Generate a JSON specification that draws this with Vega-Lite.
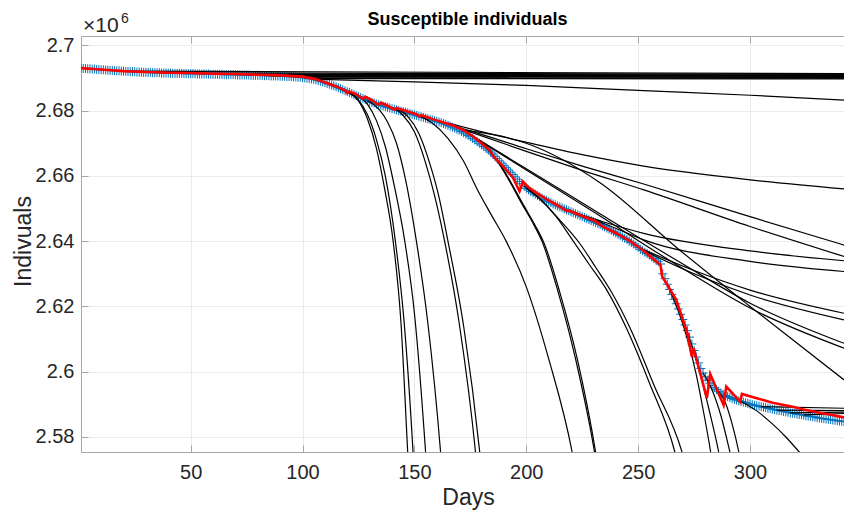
{
  "$schema": "https://vega.github.io/schema/vega-lite/v6.json",
  "width": 763,
  "height": 416,
  "autosize": {"type": "none"},
  "padding": {"left": 81, "top": 36, "right": 0, "bottom": 63},
  "background": "white",
  "title": {"text": "Susceptible individuals", "font": "Liberation Sans", "fontSize": 18, "fontWeight": "bold", "color": "#000000", "anchor": "middle", "frame": "group", "dx": 5, "baseline": "alphabetic", "offset": -31},
  "config": {
    "view": {"stroke": null},
    "axis": {
      "labelFont": "Liberation Sans", "titleFont": "Liberation Sans",
      "labelFontSize": 20, "titleFontSize": 23, "titleFontWeight": "normal",
      "labelColor": "#262626", "titleColor": "#262626",
      "domainColor": "#a6a6a6", "domainWidth": 1,
      "tickColor": "#a6a6a6", "tickSize": -7, "tickWidth": 1,
      "gridColor": "#ebebeb", "gridWidth": 1
    }
  },
  "datasets": {
    "blue": [
      {"d":1,"v":2.6930},{"d":2,"v":2.6929},{"d":3,"v":2.6929},{"d":4,"v":2.6928},{"d":5,"v":2.6928},{"d":6,"v":2.6927},{"d":7,"v":2.6927},{"d":8,"v":2.6926},{"d":9,"v":2.6926},{"d":10,"v":2.6925},
      {"d":11,"v":2.6925},{"d":12,"v":2.6924},{"d":13,"v":2.6924},{"d":14,"v":2.6923},{"d":15,"v":2.6923},{"d":16,"v":2.6922},{"d":17,"v":2.6922},{"d":18,"v":2.6922},{"d":19,"v":2.6921},{"d":20,"v":2.6921},
      {"d":21,"v":2.6920},{"d":22,"v":2.6920},{"d":23,"v":2.6919},{"d":24,"v":2.6919},{"d":25,"v":2.6919},{"d":26,"v":2.6918},{"d":27,"v":2.6918},{"d":28,"v":2.6918},{"d":29,"v":2.6917},{"d":30,"v":2.6917},
      {"d":31,"v":2.6917},{"d":32,"v":2.6917},{"d":33,"v":2.6916},{"d":34,"v":2.6916},{"d":35,"v":2.6916},{"d":36,"v":2.6916},{"d":37,"v":2.6915},{"d":38,"v":2.6915},{"d":39,"v":2.6915},{"d":40,"v":2.6915},
      {"d":41,"v":2.6915},{"d":42,"v":2.6914},{"d":43,"v":2.6914},{"d":44,"v":2.6914},{"d":45,"v":2.6914},{"d":46,"v":2.6914},{"d":47,"v":2.6913},{"d":48,"v":2.6913},{"d":49,"v":2.6913},{"d":50,"v":2.6913},
      {"d":51,"v":2.6913},{"d":52,"v":2.6913},{"d":53,"v":2.6912},{"d":54,"v":2.6912},{"d":55,"v":2.6912},{"d":56,"v":2.6912},{"d":57,"v":2.6912},{"d":58,"v":2.6912},{"d":59,"v":2.6911},{"d":60,"v":2.6911},
      {"d":61,"v":2.6911},{"d":62,"v":2.6911},{"d":63,"v":2.6911},{"d":64,"v":2.6911},{"d":65,"v":2.6910},{"d":66,"v":2.6910},{"d":67,"v":2.6910},{"d":68,"v":2.6910},{"d":69,"v":2.6910},{"d":70,"v":2.6910},
      {"d":71,"v":2.6909},{"d":72,"v":2.6909},{"d":73,"v":2.6909},{"d":74,"v":2.6909},{"d":75,"v":2.6909},{"d":76,"v":2.6909},{"d":77,"v":2.6908},{"d":78,"v":2.6908},{"d":79,"v":2.6908},{"d":80,"v":2.6908},
      {"d":81,"v":2.6908},{"d":82,"v":2.6907},{"d":83,"v":2.6907},{"d":84,"v":2.6907},{"d":85,"v":2.6907},{"d":86,"v":2.6906},{"d":87,"v":2.6906},{"d":88,"v":2.6906},{"d":89,"v":2.6906},{"d":90,"v":2.6905},
      {"d":91,"v":2.6905},{"d":92,"v":2.6905},{"d":93,"v":2.6904},{"d":94,"v":2.6904},{"d":95,"v":2.6904},{"d":96,"v":2.6903},{"d":97,"v":2.6903},{"d":98,"v":2.6902},{"d":99,"v":2.6902},{"d":100,"v":2.6901},
      {"d":101,"v":2.6900},{"d":102,"v":2.6899},{"d":103,"v":2.6898},{"d":104,"v":2.6897},{"d":105,"v":2.6896},{"d":106,"v":2.6894},{"d":107,"v":2.6892},{"d":108,"v":2.6890},{"d":109,"v":2.6888},{"d":110,"v":2.6886},
      {"d":111,"v":2.6883},{"d":112,"v":2.6881},{"d":113,"v":2.6878},{"d":114,"v":2.6876},{"d":115,"v":2.6873},{"d":116,"v":2.6870},{"d":117,"v":2.6867},{"d":118,"v":2.6864},{"d":119,"v":2.6861},{"d":120,"v":2.6858},
      {"d":121,"v":2.6855},{"d":122,"v":2.6852},{"d":123,"v":2.6849},{"d":124,"v":2.6846},{"d":125,"v":2.6843},{"d":126,"v":2.6840},{"d":127,"v":2.6837},{"d":128,"v":2.6834},{"d":129,"v":2.6831},{"d":130,"v":2.6828},
      {"d":131,"v":2.6825},{"d":132,"v":2.6823},{"d":133,"v":2.6820},{"d":134,"v":2.6818},{"d":135,"v":2.6816},{"d":136,"v":2.6814},{"d":137,"v":2.6812},{"d":138,"v":2.6810},{"d":139,"v":2.6808},{"d":140,"v":2.6806},
      {"d":141,"v":2.6804},{"d":142,"v":2.6802},{"d":143,"v":2.6800},{"d":144,"v":2.6798},{"d":145,"v":2.6797},{"d":146,"v":2.6795},{"d":147,"v":2.6793},{"d":148,"v":2.6791},{"d":149,"v":2.6789},{"d":150,"v":2.6787},
      {"d":151,"v":2.6785},{"d":152,"v":2.6783},{"d":153,"v":2.6781},{"d":154,"v":2.6779},{"d":155,"v":2.6777},{"d":156,"v":2.6775},{"d":157,"v":2.6773},{"d":158,"v":2.6771},{"d":159,"v":2.6769},{"d":160,"v":2.6767},
      {"d":161,"v":2.6765},{"d":162,"v":2.6763},{"d":163,"v":2.6760},{"d":164,"v":2.6758},{"d":165,"v":2.6755},{"d":166,"v":2.6752},{"d":167,"v":2.6749},{"d":168,"v":2.6746},{"d":169,"v":2.6743},{"d":170,"v":2.6740},
      {"d":171,"v":2.6736},{"d":172,"v":2.6732},{"d":173,"v":2.6728},{"d":174,"v":2.6724},{"d":175,"v":2.6720},{"d":176,"v":2.6715},{"d":177,"v":2.6710},{"d":178,"v":2.6705},{"d":179,"v":2.6700},{"d":180,"v":2.6695},
      {"d":181,"v":2.6690},{"d":182,"v":2.6685},{"d":183,"v":2.6679},{"d":184,"v":2.6673},{"d":185,"v":2.6667},{"d":186,"v":2.6660},{"d":187,"v":2.6653},{"d":188,"v":2.6646},{"d":189,"v":2.6639},{"d":190,"v":2.6632},
      {"d":191,"v":2.6625},{"d":192,"v":2.6618},{"d":193,"v":2.6611},{"d":194,"v":2.6604},{"d":195,"v":2.6597},{"d":196,"v":2.6590},{"d":197,"v":2.6583},{"d":198,"v":2.6576},{"d":199,"v":2.6569},{"d":200,"v":2.6562},
      {"d":201,"v":2.6557},{"d":202,"v":2.6552},{"d":203,"v":2.6548},{"d":204,"v":2.6544},{"d":205,"v":2.6540},{"d":206,"v":2.6536},{"d":207,"v":2.6532},{"d":208,"v":2.6528},{"d":209,"v":2.6525},{"d":210,"v":2.6521},
      {"d":211,"v":2.6518},{"d":212,"v":2.6514},{"d":213,"v":2.6511},{"d":214,"v":2.6508},{"d":215,"v":2.6505},{"d":216,"v":2.6502},{"d":217,"v":2.6499},{"d":218,"v":2.6496},{"d":219,"v":2.6493},{"d":220,"v":2.6490},
      {"d":221,"v":2.6487},{"d":222,"v":2.6484},{"d":223,"v":2.6481},{"d":224,"v":2.6478},{"d":225,"v":2.6475},{"d":226,"v":2.6472},{"d":227,"v":2.6469},{"d":228,"v":2.6466},{"d":229,"v":2.6463},{"d":230,"v":2.6460},
      {"d":231,"v":2.6457},{"d":232,"v":2.6454},{"d":233,"v":2.6451},{"d":234,"v":2.6447},{"d":235,"v":2.6444},{"d":236,"v":2.6440},{"d":237,"v":2.6437},{"d":238,"v":2.6433},{"d":239,"v":2.6429},{"d":240,"v":2.6425},
      {"d":241,"v":2.6421},{"d":242,"v":2.6417},{"d":243,"v":2.6413},{"d":244,"v":2.6409},{"d":245,"v":2.6405},{"d":246,"v":2.6400},{"d":247,"v":2.6396},{"d":248,"v":2.6391},{"d":249,"v":2.6386},{"d":250,"v":2.6381},
      {"d":251,"v":2.6375},{"d":252,"v":2.6371},{"d":253,"v":2.6366},{"d":254,"v":2.6362},{"d":255,"v":2.6357},{"d":256,"v":2.6352},{"d":257,"v":2.6347},{"d":258,"v":2.6342},{"d":259,"v":2.6337},{"d":260,"v":2.6330},
      {"d":261,"v":2.6300},{"d":262,"v":2.6285},{"d":263,"v":2.6268},{"d":264,"v":2.6252},{"d":265,"v":2.6237},{"d":266,"v":2.6222},{"d":267,"v":2.6208},{"d":268,"v":2.6192},{"d":269,"v":2.6176},{"d":270,"v":2.6160},
      {"d":271,"v":2.6143},{"d":272,"v":2.6126},{"d":273,"v":2.6106},{"d":274,"v":2.6085},{"d":275,"v":2.6065},{"d":276,"v":2.6045},{"d":277,"v":2.6027},{"d":278,"v":2.6010},{"d":279,"v":2.5996},{"d":280,"v":2.5984},
      {"d":281,"v":2.5974},{"d":282,"v":2.5965},{"d":283,"v":2.5958},{"d":284,"v":2.5951},{"d":285,"v":2.5945},{"d":286,"v":2.5940},{"d":287,"v":2.5935},{"d":288,"v":2.5931},{"d":289,"v":2.5927},{"d":290,"v":2.5924},
      {"d":291,"v":2.5921},{"d":292,"v":2.5918},{"d":293,"v":2.5915},{"d":294,"v":2.5913},{"d":295,"v":2.5911},{"d":296,"v":2.5909},{"d":297,"v":2.5907},{"d":298,"v":2.5905},{"d":299,"v":2.5903},{"d":300,"v":2.5901},
      {"d":301,"v":2.5899},{"d":302,"v":2.5897},{"d":303,"v":2.5896},{"d":304,"v":2.5894},{"d":305,"v":2.5893},{"d":306,"v":2.5891},{"d":307,"v":2.5890},{"d":308,"v":2.5888},{"d":309,"v":2.5887},{"d":310,"v":2.5885},
      {"d":311,"v":2.5884},{"d":312,"v":2.5882},{"d":313,"v":2.5881},{"d":314,"v":2.5880},{"d":315,"v":2.5878},{"d":316,"v":2.5877},{"d":317,"v":2.5876},{"d":318,"v":2.5874},{"d":319,"v":2.5873},{"d":320,"v":2.5872},
      {"d":321,"v":2.5870},{"d":322,"v":2.5869},{"d":323,"v":2.5868},{"d":324,"v":2.5867},{"d":325,"v":2.5865},{"d":326,"v":2.5864},{"d":327,"v":2.5863},{"d":328,"v":2.5862},{"d":329,"v":2.5861},{"d":330,"v":2.5859},
      {"d":331,"v":2.5858},{"d":332,"v":2.5857},{"d":333,"v":2.5856},{"d":334,"v":2.5855},{"d":335,"v":2.5854},{"d":336,"v":2.5853},{"d":337,"v":2.5852},{"d":338,"v":2.5851},{"d":339,"v":2.5850},{"d":340,"v":2.5849},
      {"d":341,"v":2.5848},{"d":342,"v":2.5847}
    ],
    "red": [
      {"d":1,"v":2.6930},{"d":10,"v":2.6926},{"d":20,"v":2.6921},{"d":30,"v":2.6918},{"d":40,"v":2.6916},{"d":50,"v":2.6915},{"d":60,"v":2.6913},{"d":70,"v":2.6912},{"d":80,"v":2.6910},{"d":90,"v":2.6908},
      {"d":100,"v":2.6904},{"d":105,"v":2.6898},{"d":110,"v":2.6887},{"d":115,"v":2.6874},{"d":119,"v":2.6862},{"d":120,"v":2.6854},{"d":121,"v":2.6858},{"d":124,"v":2.6850},{"d":127,"v":2.6836},{"d":128,"v":2.6842},
      {"d":131,"v":2.6832},{"d":134,"v":2.6818},{"d":135,"v":2.6824},{"d":138,"v":2.6815},{"d":141,"v":2.6803},{"d":142,"v":2.6808},{"d":147,"v":2.6797},{"d":151,"v":2.6789},{"d":152,"v":2.6782},{"d":153,"v":2.6786},
      {"d":160,"v":2.6770},{"d":168,"v":2.6753},{"d":169,"v":2.6749},{"d":172,"v":2.6740},{"d":176,"v":2.6722},{"d":180,"v":2.6700},{"d":184,"v":2.6677},{"d":185,"v":2.6662},{"d":190,"v":2.6627},{"d":194,"v":2.6595},
      {"d":197,"v":2.6553},{"d":198.5,"v":2.6582},{"d":201,"v":2.6565},{"d":204.5,"v":2.6548},{"d":210,"v":2.6525},{"d":216,"v":2.6502},{"d":218,"v":2.6492},{"d":219,"v":2.6494},{"d":225,"v":2.6477},{"d":231,"v":2.6461},
      {"d":234,"v":2.6445},{"d":240,"v":2.6425},{"d":246,"v":2.6402},{"d":252,"v":2.6373},{"d":256,"v":2.6350},{"d":260,"v":2.6327},{"d":260.7,"v":2.6292},{"d":264,"v":2.6255},{"d":267,"v":2.6220},{"d":272,"v":2.6118},
      {"d":274,"v":2.6046},{"d":274.8,"v":2.6072},{"d":280.7,"v":2.5919},{"d":282.2,"v":2.5993},{"d":288.2,"v":2.5898},{"d":289.4,"v":2.5954},{"d":295.6,"v":2.5908},{"d":296.4,"v":2.5932},{"d":303,"v":2.5919},{"d":310,"v":2.5905},
      {"d":318,"v":2.5894},{"d":324,"v":2.5884},{"d":330,"v":2.5876},{"d":336,"v":2.5868},{"d":342,"v":2.5860}
    ],
    "black": [
      {"id":"H1","d":20,"v":2.6921},{"id":"H1","d":342,"v":2.6913},
      {"id":"H2","d":40,"v":2.6915},{"id":"H2","d":342,"v":2.6911},
      {"id":"H3","d":60,"v":2.6911},{"id":"H3","d":342,"v":2.6909},
      {"id":"H4","d":75,"v":2.6909},{"id":"H4","d":342,"v":2.6907},
      {"id":"H5","d":85,"v":2.6907},{"id":"H5","d":342,"v":2.6905},
      {"id":"H6","d":92,"v":2.6905},{"id":"H6","d":342,"v":2.6903},
      {"id":"H7","d":97,"v":2.6903},{"id":"H7","d":342,"v":2.6901},
      {"id":"H8","d":101,"v":2.6900},{"id":"H8","d":342,"v":2.6899},
      {"id":"H9","d":104,"v":2.6898},{"id":"H9","d":342,"v":2.6897},
      {"id":"B","d":106,"v":2.6896},{"id":"B","d":150,"v":2.6888},{"id":"B","d":200,"v":2.6877},{"id":"B","d":252.5,"v":2.6861},{"id":"B","d":300,"v":2.6847},{"id":"B","d":342,"v":2.6832},
      {"id":"C1a","d":121,"v":2.6855},{"id":"C1a","d":125,"v":2.6830},{"id":"C1a","d":129,"v":2.6775},{"id":"C1a","d":133,"v":2.6685},{"id":"C1a","d":136.7,"v":2.6560},{"id":"C1a","d":140.5,"v":2.6400},{"id":"C1a","d":144,"v":2.6150},{"id":"C1a","d":147,"v":2.5754},{"id":"C1a","d":148,"v":2.562},
      {"id":"C1b","d":121,"v":2.6855},{"id":"C1b","d":125,"v":2.6833},{"id":"C1b","d":129,"v":2.6788},{"id":"C1b","d":133,"v":2.6712},{"id":"C1b","d":137,"v":2.6600},{"id":"C1b","d":141.5,"v":2.6400},{"id":"C1b","d":145.5,"v":2.6145},{"id":"C1b","d":149.4,"v":2.5754},{"id":"C1b","d":150.5,"v":2.562},
      {"id":"C2","d":124,"v":2.6848},{"id":"C2","d":129,"v":2.6820},{"id":"C2","d":133,"v":2.6770},{"id":"C2","d":137,"v":2.6690},{"id":"C2","d":141,"v":2.6570},{"id":"C2","d":145.7,"v":2.6400},{"id":"C2","d":150,"v":2.6180},{"id":"C2","d":155,"v":2.5754},{"id":"C2","d":156.5,"v":2.560},
      {"id":"C3","d":129,"v":2.6831},{"id":"C3","d":134,"v":2.6805},{"id":"C3","d":138,"v":2.6765},{"id":"C3","d":142,"v":2.6700},{"id":"C3","d":146,"v":2.6590},{"id":"C3","d":150.9,"v":2.6400},{"id":"C3","d":156,"v":2.6150},{"id":"C3","d":161.7,"v":2.5754},{"id":"C3","d":163,"v":2.564},
      {"id":"C4","d":140,"v":2.6810},{"id":"C4","d":145,"v":2.6785},{"id":"C4","d":150,"v":2.6735},{"id":"C4","d":155,"v":2.6640},{"id":"C4","d":159,"v":2.6540},{"id":"C4","d":163.5,"v":2.6400},{"id":"C4","d":170,"v":2.6150},{"id":"C4","d":177.3,"v":2.5754},{"id":"C4","d":179,"v":2.563},
      {"id":"C5","d":142,"v":2.6806},{"id":"C5","d":147,"v":2.6782},{"id":"C5","d":152,"v":2.6730},{"id":"C5","d":157,"v":2.6635},{"id":"C5","d":161,"v":2.6535},{"id":"C5","d":165,"v":2.6400},{"id":"C5","d":172,"v":2.6140},{"id":"C5","d":179.2,"v":2.5754},{"id":"C5","d":181,"v":2.563},
      {"id":"C6","d":151,"v":2.6787},{"id":"C6","d":158,"v":2.6762},{"id":"C6","d":165,"v":2.6715},{"id":"C6","d":172,"v":2.6645},{"id":"C6","d":178,"v":2.6560},{"id":"C6","d":184,"v":2.6485},{"id":"C6","d":191,"v":2.6400},{"id":"C6","d":200,"v":2.6260},{"id":"C6","d":210,"v":2.6040},{"id":"C6","d":220.5,"v":2.5754},{"id":"C6","d":223,"v":2.566},
      {"id":"C7","d":180,"v":2.6700},{"id":"C7","d":186,"v":2.6655},{"id":"C7","d":192,"v":2.6590},{"id":"C7","d":198,"v":2.6515},{"id":"C7","d":203,"v":2.6455},{"id":"C7","d":207,"v":2.6400},{"id":"C7","d":214,"v":2.6250},{"id":"C7","d":222,"v":2.6040},{"id":"C7","d":230.5,"v":2.5754},{"id":"C7","d":232,"v":2.569},
      {"id":"C8","d":181,"v":2.6695},{"id":"C8","d":187,"v":2.6648},{"id":"C8","d":193,"v":2.6582},{"id":"C8","d":199,"v":2.6508},{"id":"C8","d":204,"v":2.6448},{"id":"C8","d":208,"v":2.6393},{"id":"C8","d":215,"v":2.6243},{"id":"C8","d":223,"v":2.6033},{"id":"C8","d":231,"v":2.5754},{"id":"C8","d":232.5,"v":2.569},
      {"id":"C9","d":199,"v":2.6569},{"id":"C9","d":206,"v":2.6530},{"id":"C9","d":213,"v":2.6478},{"id":"C9","d":221,"v":2.6400},{"id":"C9","d":228,"v":2.6330},{"id":"C9","d":236,"v":2.6250},{"id":"C9","d":245,"v":2.6130},{"id":"C9","d":255,"v":2.5966},{"id":"C9","d":266.4,"v":2.5754},{"id":"C9","d":268,"v":2.571},
      {"id":"C10","d":200,"v":2.6562},{"id":"C10","d":207,"v":2.6524},{"id":"C10","d":214,"v":2.6472},{"id":"C10","d":224,"v":2.6392},{"id":"C10","d":231,"v":2.6320},{"id":"C10","d":238,"v":2.6245},{"id":"C10","d":247,"v":2.6125},{"id":"C10","d":257,"v":2.5960},{"id":"C10","d":269.6,"v":2.5754},{"id":"C10","d":271,"v":2.572},
      {"id":"C11","d":264,"v":2.6252},{"id":"C11","d":268,"v":2.6185},{"id":"C11","d":272,"v":2.6100},{"id":"C11","d":276,"v":2.5990},{"id":"C11","d":279,"v":2.5885},{"id":"C11","d":282.4,"v":2.5754},{"id":"C11","d":284,"v":2.568},
      {"id":"C12","d":270,"v":2.6160},{"id":"C12","d":274,"v":2.6080},{"id":"C12","d":278,"v":2.5985},{"id":"C12","d":282,"v":2.5875},{"id":"C12","d":286,"v":2.5754},{"id":"C12","d":287.5,"v":2.570},
      {"id":"C13","d":279,"v":2.5996},{"id":"C13","d":283,"v":2.5945},{"id":"C13","d":287,"v":2.5865},{"id":"C13","d":291,"v":2.5754},{"id":"C13","d":292.5,"v":2.571},
      {"id":"C14","d":286,"v":2.5940},{"id":"C14","d":289,"v":2.5905},{"id":"C14","d":292,"v":2.5840},{"id":"C14","d":295,"v":2.5754},{"id":"C14","d":296,"v":2.572},
      {"id":"C15","d":296,"v":2.5909},{"id":"C15","d":303,"v":2.5880},{"id":"C15","d":310,"v":2.5840},{"id":"C15","d":316,"v":2.5800},{"id":"C15","d":322,"v":2.5754},{"id":"C15","d":324,"v":2.5738},
      {"id":"D1","d":165,"v":2.6762},{"id":"D1","d":179,"v":2.6737},{"id":"D1","d":200,"v":2.6703},{"id":"D1","d":225,"v":2.6665},{"id":"D1","d":252.5,"v":2.6630},{"id":"D1","d":300,"v":2.6588},{"id":"D1","d":342,"v":2.6560},
      {"id":"D2","d":168,"v":2.6752},{"id":"D2","d":180,"v":2.6727},{"id":"D2","d":200,"v":2.6683},{"id":"D2","d":225,"v":2.6630},{"id":"D2","d":252.5,"v":2.6575},{"id":"D2","d":300,"v":2.6475},{"id":"D2","d":342,"v":2.6388},
      {"id":"D3","d":170,"v":2.6746},{"id":"D3","d":182,"v":2.6718},{"id":"D3","d":200,"v":2.6675},{"id":"D3","d":225,"v":2.6617},{"id":"D3","d":252.5,"v":2.6557},{"id":"D3","d":300,"v":2.6445},{"id":"D3","d":342,"v":2.6353},
      {"id":"D4","d":218,"v":2.6495},{"id":"D4","d":235,"v":2.6458},{"id":"D4","d":252.5,"v":2.6424},{"id":"D4","d":300,"v":2.6370},{"id":"D4","d":342,"v":2.6340},
      {"id":"D5","d":222,"v":2.6487},{"id":"D5","d":238,"v":2.6445},{"id":"D5","d":252.5,"v":2.6404},{"id":"D5","d":300,"v":2.6338},{"id":"D5","d":342,"v":2.6307},
      {"id":"F1","d":172,"v":2.6740},{"id":"F1","d":200,"v":2.6700},{"id":"F1","d":232.8,"v":2.6580},{"id":"F1","d":268.5,"v":2.6373},{"id":"F1","d":300,"v":2.6200},{"id":"F1","d":342,"v":2.5975},
      {"id":"F2","d":176,"v":2.6722},{"id":"F2","d":200,"v":2.6622},{"id":"F2","d":230,"v":2.6496},{"id":"F2","d":268.5,"v":2.6336},{"id":"F2","d":300,"v":2.6210},{"id":"F2","d":342,"v":2.6087},
      {"id":"F3","d":177,"v":2.6717},{"id":"F3","d":200,"v":2.6618},{"id":"F3","d":230,"v":2.6490},{"id":"F3","d":268.5,"v":2.6322},{"id":"F3","d":300,"v":2.6195},{"id":"F3","d":342,"v":2.6072},
      {"id":"G1","d":250,"v":2.6381},{"id":"G1","d":275,"v":2.6310},{"id":"G1","d":300,"v":2.6250},{"id":"G1","d":342,"v":2.6179},
      {"id":"G2","d":251,"v":2.6376},{"id":"G2","d":275,"v":2.6300},{"id":"G2","d":300,"v":2.6235},{"id":"G2","d":342,"v":2.6159},
      {"id":"E1","d":305,"v":2.5893},{"id":"E1","d":342,"v":2.5888},
      {"id":"E2","d":312,"v":2.5882},{"id":"E2","d":342,"v":2.5881},
      {"id":"E3","d":318,"v":2.5874},{"id":"E3","d":342,"v":2.5876},
      {"id":"E4","d":324,"v":2.5868},{"id":"E4","d":342,"v":2.5872}
    ]
  },
  "layer": [
    {
      "data": {"name": "blue"},
      "mark": {"type": "point", "shape": "M-1,0H1M0,-1V1", "filled": false, "stroke": "#0072BD", "strokeWidth": 1, "size": 81, "opacity": 1, "clip": true},
      "encoding": {
        "x": {"field": "d", "type": "quantitative", "scale": {"domain": [1, 342], "nice": false, "zero": false},
              "axis": {"values": [50, 100, 150, 200, 250, 300], "format": "d", "labelPadding": 17.5, "grid": true, "title": "Days", "titleX": 387, "titleY": 52, "titleBaseline": "alphabetic", "titleAlign": "center"}},
        "y": {"field": "v", "type": "quantitative", "scale": {"domain": [2.5754, 2.70285], "nice": false, "zero": false},
              "axis": {"values": [2.58, 2.6, 2.62, 2.64, 2.66, 2.68, 2.7], "format": "~g", "labelPadding": 14, "grid": true, "title": "Indivuals", "titleX": -51, "titleY": 205, "titleAngle": -90, "titleBaseline": "alphabetic", "titleAlign": "center"}}
      }
    },
    {
      "data": {"name": "black"},
      "mark": {"type": "line", "color": "#000000", "strokeWidth": 1.2, "interpolate": "monotone", "clip": true},
      "encoding": {
        "detail": {"field": "id"},
        "x": {"field": "d", "type": "quantitative", "scale": {"domain": [1, 342], "nice": false, "zero": false}, "axis": null},
        "y": {"field": "v", "type": "quantitative", "scale": {"domain": [2.5754, 2.70285], "nice": false, "zero": false}},
        "order": {"field": "d", "type": "quantitative"}
      }
    },
    {
      "data": {"name": "red"},
      "mark": {"type": "line", "color": "#FF0000", "strokeWidth": 2.6, "clip": true},
      "encoding": {
        "x": {"field": "d", "type": "quantitative", "scale": {"domain": [1, 342], "nice": false, "zero": false}, "axis": null},
        "y": {"field": "v", "type": "quantitative", "scale": {"domain": [2.5754, 2.70285], "nice": false, "zero": false}},
        "order": {"field": "d", "type": "quantitative"}
      }
    },
    {
      "data": {"name": "red"},
      "mark": {"type": "point", "opacity": 0},
      "encoding": {
        "x": {"field": "d", "type": "quantitative", "scale": {"domain": [1, 342], "nice": false, "zero": false},
              "axis": {"orient": "top", "values": [50, 100, 150, 200, 250, 300], "labels": false, "grid": false, "title": null}},
        "y": {"field": "v", "type": "quantitative", "scale": {"domain": [2.5754, 2.70285], "nice": false, "zero": false}}
      }
    },
    {
      "data": {"values": [{}]},
      "mark": {"type": "text", "text": "×10", "font": "Liberation Sans", "fontSize": 21, "color": "#262626", "align": "left", "baseline": "alphabetic", "dx": 2, "dy": -4},
      "encoding": {
        "x": {"datum": 1, "type": "quantitative", "scale": {"domain": [1, 342], "nice": false, "zero": false}, "axis": null},
        "y": {"datum": 2.70285, "type": "quantitative", "scale": {"domain": [2.5754, 2.70285], "nice": false, "zero": false}}
      }
    },
    {
      "data": {"values": [{}]},
      "mark": {"type": "text", "text": "6", "font": "Liberation Sans", "fontSize": 14, "color": "#262626", "align": "left", "baseline": "alphabetic", "dx": 40, "dy": -13},
      "encoding": {
        "x": {"datum": 1, "type": "quantitative", "scale": {"domain": [1, 342], "nice": false, "zero": false}, "axis": null},
        "y": {"datum": 2.70285, "type": "quantitative", "scale": {"domain": [2.5754, 2.70285], "nice": false, "zero": false}}
      }
    }
  ],
  "resolve": {"axis": {"x": "independent"}}
}
